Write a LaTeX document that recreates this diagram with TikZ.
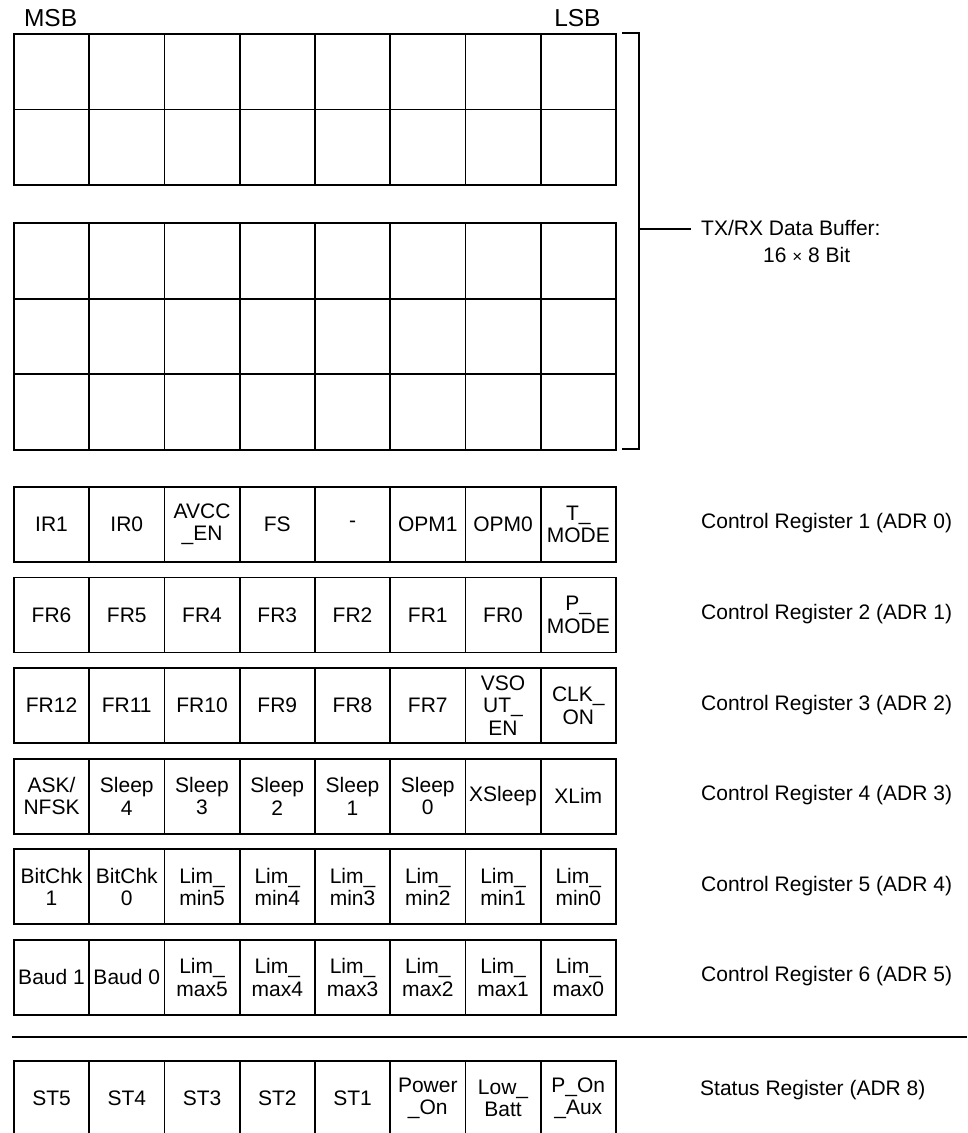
\documentclass[tikz,border=0pt]{standalone}
\usepackage{fontspec}
\setmainfont{Liberation Sans}
\newcommand\cellfont{\fontsize{21}{22.5}\selectfont}
\newcommand\msbfont{\fontsize{24.5}{26}\selectfont}
\begin{document}
\begin{tikzpicture}[x=1pt,y=-1pt,
  cell/.style={draw, line width=1.8pt, minimum width=75.25pt, minimum height=75.5pt,
    inner sep=0pt, align=center, font=\cellfont, anchor=north west},
  reg/.style={cell, minimum height=75pt},
  lbl/.style={anchor=west, inner sep=0pt, font=\cellfont},
  edge/.style={line width=1.8pt}]
\useasboundingbox (0,0) rectangle (967,1133);
\clip (0,0) rectangle (967,1133);

% MSB / LSB
\node[font=\msbfont, inner sep=0pt] (msb) at (50.6,18) {MSB};
\node[font=\msbfont, inner sep=0pt] (lsb) at (577.4,18) {LSB};

% data buffer
\foreach \r/\y in {1/33, 2/108.5, 3/222, 4/297.7, 5/373.3}{
  \foreach \c in {0,...,7}{
    \node[cell] (b\r c\c) at (13+75.25*\c, \y) {};
  }
}

% bracket
\coordinate (brTL) at (622,33);
\coordinate (brT) at (639,33);
\coordinate (brB) at (639,449);
\coordinate (brBL) at (622,449);
\coordinate (brM) at (639,229);
\draw[edge] (brTL) -- (brT) -- (brB) -- (brBL);
\node[lbl, inner xsep=10pt] (txrx) at (691,228) {TX/RX Data Buffer:};
\node[lbl] (size) at (763,255) {16 {\fontsize{17}{17}\selectfont ×} 8 Bit};
\draw[edge] (brM) -- (txrx.west |- brM);

% control registers
\foreach \k/\y/\lst in {
  1/486/{IR1,IR0,{AVCC\\\_EN},FS,-,OPM1,OPM0,{T\_\\MODE}},
  2/576.6/{FR6,FR5,FR4,FR3,FR2,FR1,FR0,{P\_\\MODE}},
  3/667.2/{FR12,FR11,FR10,FR9,FR8,FR7,{VSO\\UT\_\\EN},{CLK\_\\ON}},
  4/757.8/{{ASK/\\NFSK},{Sleep\\4},{Sleep\\3},{Sleep\\2},{Sleep\\1},{Sleep\\0},XSleep,XLim},
  5/848.4/{{BitChk\\1},{BitChk\\0},{Lim\_\\min5},{Lim\_\\min4},{Lim\_\\min3},{Lim\_\\min2},{Lim\_\\min1},{Lim\_\\min0}},
  6/939/{{Baud 1},{Baud 0},{Lim\_\\max5},{Lim\_\\max4},{Lim\_\\max3},{Lim\_\\max2},{Lim\_\\max1},{Lim\_\\max0}}}{
  \foreach \t [count=\c from 0] in \lst {
    \node[reg] (r\k c\c) at (13+75.25*\c, \y) {\t};
  }
  \pgfmathtruncatemacro\adr{\k-1}
  \node[lbl] (crl\k) at (701, \y+37.5) {Control Register \k\ (ADR \adr)};
}

% separator
\coordinate (sepL) at (12,1037);
\coordinate (sepR) at (967,1037);
\draw[edge] (sepL) -- (sepR);

% status register
\foreach \t [count=\c from 0] in {ST5,ST4,ST3,ST2,ST1,{Power\\\_On},{Low\_\\Batt},{P\_On\\\_Aux}}{
  \node[reg] (sc\c) at (13+75.25*\c, 1060) {\t};
}
\node[lbl] (stl) at (700, 1090) {Status Register (ADR 8)};
\end{tikzpicture}
\end{document}
